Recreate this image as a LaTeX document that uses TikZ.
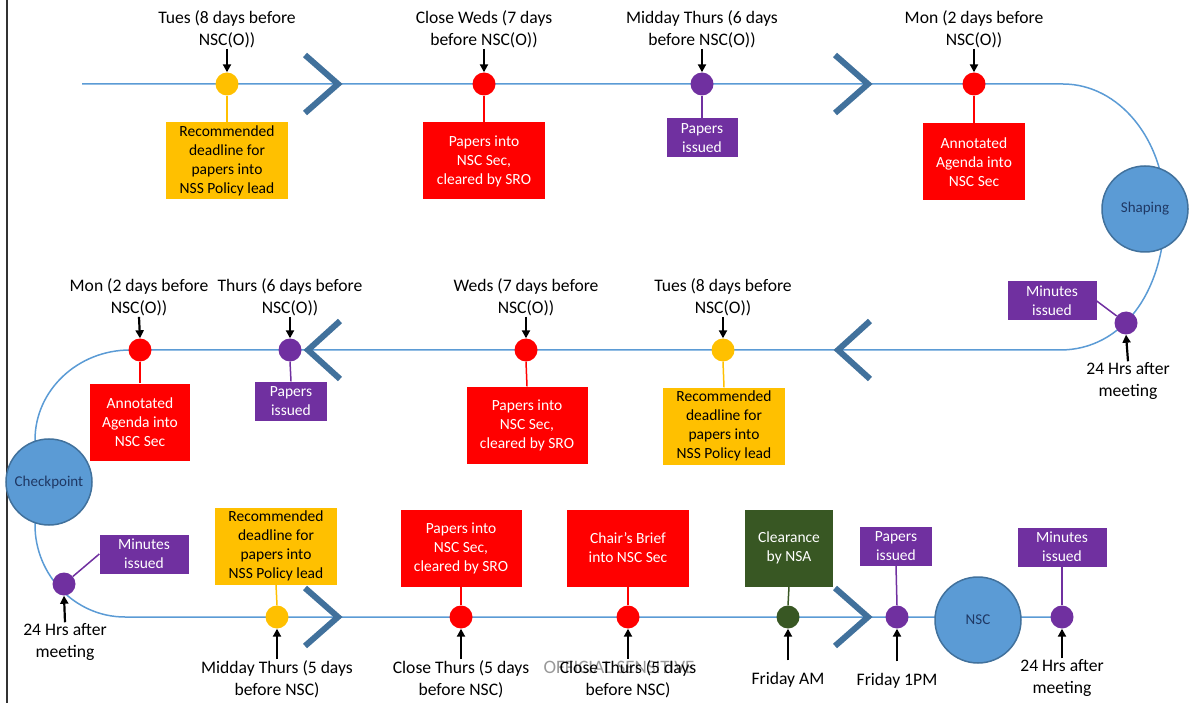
\documentclass[tikz,border=0pt]{standalone}
\usepackage{fontspec}
\setmainfont{Carlito}
\usetikzlibrary{arrows.meta, positioning}
\definecolor{nscyellow}{RGB}{255, 192, 0}
\definecolor{nscred}{RGB}{255, 0, 0}
\definecolor{nscpurple}{RGB}{112, 48, 160}
\definecolor{nscgreen}{RGB}{56, 87, 35}
\definecolor{trackblue}{RGB}{91, 155, 213}
\definecolor{chevblue}{RGB}{65, 113, 156}
\definecolor{circtext}{RGB}{31, 56, 100}
\newcommand{\lblfont}{\fontsize{17.6}{22}\selectfont}
\newcommand{\boxfont}{\fontsize{15.5}{19}\selectfont}
\newcommand{\phasefont}{\fontsize{15}{18}\selectfont}
\tikzset{
  track/.style={draw=trackblue, line width=1.5pt},
  chevron/.style={draw=chevblue, line width=6pt, line join=miter},
  dot/.style={circle, fill=#1, minimum size=23pt, inner sep=0pt},
  phase/.style={circle, draw=chevblue, fill=trackblue, line width=1.5pt,
                minimum size=86pt, inner sep=0pt, text=circtext, font=\phasefont},
  lbl/.style={align=center, inner sep=1pt, font=\lblfont},
  ybox/.style={rectangle, fill=nscyellow, text=black, align=center,
               minimum width=#1, minimum height=77pt, inner sep=0pt, font=\boxfont},
  ybox/.default=122pt,
  rbox/.style={rectangle, fill=nscred, text=white, align=center,
               minimum width=#1, minimum height=77pt, inner sep=0pt, font=\boxfont},
  rbox/.default=122pt,
  gbox/.style={rectangle, fill=nscgreen, text=white, align=center,
               minimum width=#1, minimum height=77pt, inner sep=0pt, font=\boxfont},
  gbox/.default=88pt,
  pbox/.style={rectangle, fill=nscpurple, text=white, align=center,
               minimum width=#1, minimum height=39pt, inner sep=0pt, font=\boxfont},
  pbox/.default=72pt,
  stem/.style={draw=#1, line width=1.5pt},
  pointer/.style={-{Triangle[length=8pt, width=8pt]}, line width=2.2pt, black},
}
\begin{document}
\begin{tikzpicture}[x=1pt, y=-1pt]
  \useasboundingbox (0,0) rectangle (1189,703);
  \draw[line width=2pt, black!80] (7,0) -- (7,703);

  % track
  \draw[track] (82,84) -- (1063,84) .. controls (1119,84) and (1165,140) .. (1165,210)
       .. controls (1165,292) and (1122,350) .. (1060,350) -- (130,350)
       .. controls (78,350) and (35,390) .. (35,440) -- (35,525)
       .. controls (35,575) and (75,617) .. (125,617) -- (1062,617);

  % chevrons
  \draw[chevron] (305,55) -- (338,84) -- (305,113);
  \draw[chevron] (835,55) -- (868,84) -- (835,113);
  \draw[chevron] (340,321) -- (308,350) -- (340,379);
  \draw[chevron] (870,321) -- (838,350) -- (870,379);
  \draw[chevron] (305,588) -- (338,617) -- (305,646);
  \draw[chevron] (835,588) -- (868,617) -- (835,646);

  \node[text=black!40, font=\fontsize{19}{20}\selectfont] (mark) at (619,667) {OFFICIAL SENSITIVE};

  % phases
  \node[phase] (shaping) at (1145,209) {Shaping};
  \node[phase] (checkpoint) at (49,482) {Checkpoint};
  \node[phase] (nsc) at (978,620) {NSC};

  % top row
  \node[dot=nscyellow] (td1) at (227,84) {};
  \node[dot=nscred] (td2) at (484,84) {};
  \node[dot=nscpurple] (td3) at (702,84) {};
  \node[dot=nscred] (td4) at (974,84) {};
  \node[lbl] (tl1) at (227,29) {Tues (8 days before\\NSC(O))};
  \node[lbl] (tl2) at (484,29) {Close Weds (7 days\\before NSC(O))};
  \node[lbl] (tl3) at (702,29) {Midday Thurs (6 days\\before NSC(O))};
  \node[lbl] (tl4) at (974,29) {Mon (2 days before\\NSC(O))};
  \node[ybox] (tb1) at (227,161) {Recommended\\deadline for\\papers into\\NSS Policy lead};
  \node[rbox] (tb2) at (484,161) {Papers into\\NSC Sec,\\cleared by SRO};
  \node[pbox=71pt] (tb3) at (702,138) {Papers\\issued};
  \node[rbox=102pt] (tb4) at (974,162) {Annotated\\Agenda into\\NSC Sec};
  \foreach \i/\c in {1/nscyellow, 2/nscred, 3/nscpurple, 4/nscred} {
    \draw[pointer] (tl\i.south) -- (td\i.north);
    \draw[stem=\c] (td\i.south) -- (tb\i.north);
  }

  % after shaping
  \node[dot=nscpurple] (sd) at (1126,323) {};
  \node[pbox=89pt] (sb) at (1052,301) {Minutes\\issued};
  \node[lbl] (sl) at (1128,381) {24 Hrs after\\meeting};
  \draw[stem=nscpurple] (sd) -- (sb.east);
  \draw[pointer] (sl.north) -- (sd.south);

  % middle row
  \node[dot=nscyellow] (md1) at (723,350) {};
  \node[dot=nscred] (md2) at (526,350) {};
  \node[dot=nscpurple] (md3) at (290,350) {};
  \node[dot=nscred] (md4) at (140,350) {};
  \node[lbl] (ml1) at (723,297) {Tues (8 days before\\NSC(O))};
  \node[lbl] (ml2) at (526,297) {Weds (7 days before\\NSC(O))};
  \node[lbl] (ml3) at (290,297) {Thurs (6 days before\\NSC(O))};
  \node[lbl] (ml4) at (139,297) {Mon (2 days before\\NSC(O))};
  \node[ybox] (mb1) at (724,426) {Recommended\\deadline for\\papers into\\NSS Policy lead};
  \node[rbox=121pt] (mb2) at (527,425) {Papers into\\NSC Sec,\\cleared by SRO};
  \node[pbox] (mb3) at (291,401) {Papers\\issued};
  \node[rbox=100pt] (mb4) at (140,422) {Annotated\\Agenda into\\NSC Sec};
  \foreach \i/\c in {1/nscyellow, 2/nscred, 3/nscpurple, 4/nscred} {
    \draw[pointer] (ml\i.south) -- (md\i.north);
    \draw[stem=\c] (md\i.south) -- (mb\i.north);
  }

  % after checkpoint
  \node[dot=nscpurple] (cd) at (64,584) {};
  \node[pbox=89pt] (cb) at (144,554) {Minutes\\issued};
  \node[lbl] (cl) at (65,642) {24 Hrs after\\meeting};
  \draw[stem=nscpurple] (cd) -- (cb.west);
  \draw[pointer] (cl.north) -- (cd.south);

  % bottom row
  \node[dot=nscyellow] (bd1) at (277,617) {};
  \node[dot=nscred] (bd2) at (461,617) {};
  \node[dot=nscred] (bd3) at (628,617) {};
  \node[dot=nscgreen] (bd4) at (788,617) {};
  \node[dot=nscpurple] (bd5) at (897,617) {};
  \node[dot=nscpurple] (bd6) at (1062,617) {};
  \node[ybox] (bb1) at (276,546) {Recommended\\deadline for\\papers into\\NSS Policy lead};
  \node[rbox=121pt] (bb2) at (461,548) {Papers into\\NSC Sec,\\cleared by SRO};
  \node[rbox] (bb3) at (628,548) {Chair’s Brief\\into NSC Sec};
  \node[gbox] (bb4) at (789,548) {Clearance\\by NSA};
  \node[pbox] (bb5) at (896,546) {Papers\\issued};
  \node[pbox=89pt] (bb6) at (1062,547) {Minutes\\issued};
  \node[lbl] (bl1) at (277,679) {Midday Thurs (5 days\\before NSC)};
  \node[lbl] (bl2) at (461,679) {Close Thurs (5 days\\before NSC)};
  \node[lbl] (bl3) at (628,679) {Close Thurs (5 days\\before NSC)};
  \node[lbl] (bl4) at (788,680) {Friday AM};
  \node[lbl] (bl5) at (897,681) {Friday 1PM};
  \node[lbl] (bl6) at (1062,678) {24 Hrs after\\meeting};
  \foreach \i/\c in {1/nscyellow, 2/nscred, 3/nscred, 4/nscgreen, 5/nscpurple, 6/nscpurple} {
    \draw[stem=\c] (bd\i.north) -- (bb\i.south);
  }
  \foreach \i in {1,2,3,6} {
    \draw[pointer] (bl\i.north) -- (bd\i.south);
  }
  \foreach \i in {4,5} {
    \draw[pointer] ([yshift=11pt]bl\i.north) -- (bd\i.south);
  }
\end{tikzpicture}
\end{document}
